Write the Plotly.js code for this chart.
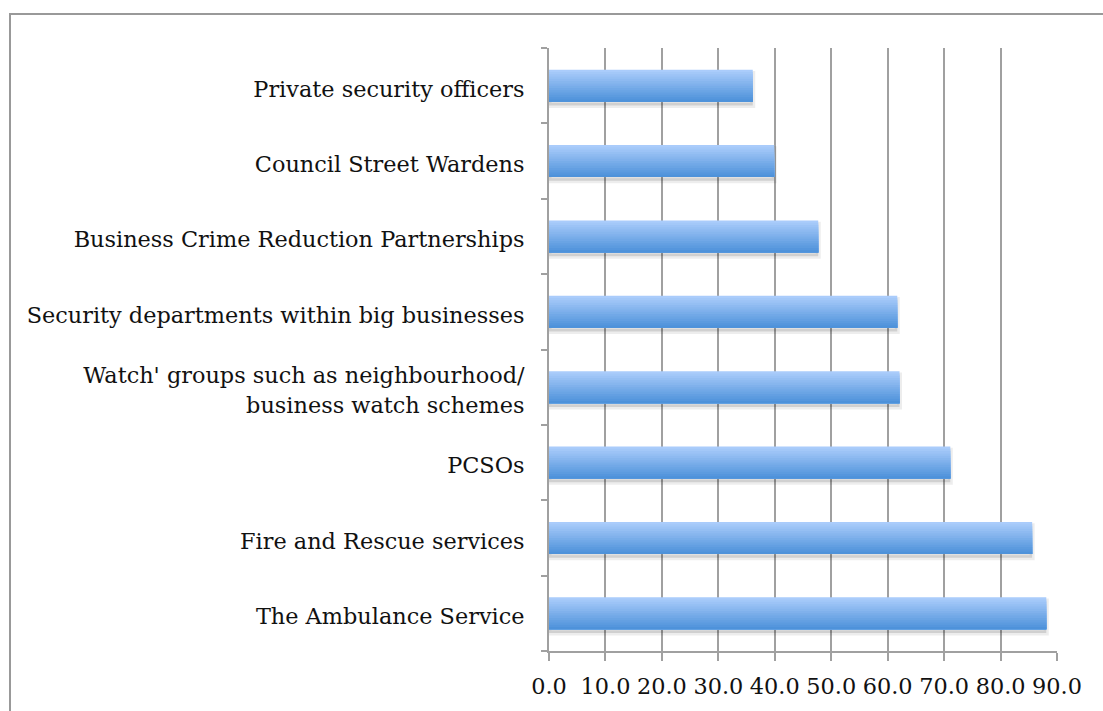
<!DOCTYPE html>
<html>
<head>
<meta charset="utf-8">
<script src="https://cdn.plot.ly/plotly-3.0.1.min.js"></script>
<style>
  html, body { margin: 0; padding: 0; background: #fff; }
  #chart { width: 1103px; height: 711px; }
</style>
</head>
<body>
<div id="chart"></div>
<script>
// Data (bottom to top, as drawn)
const categories = [
  "The Ambulance Service",
  "Fire and Rescue services",
  "PCSOs",
  "Watch' groups such as neighbourhood/<br>business watch schemes",
  "Security departments within big businesses",
  "Business Crime Reduction Partnerships",
  "Council Street Wardens",
  "Private security officers"
];
const values = [88.1, 85.6, 71.1, 62.1, 61.7, 47.7, 39.9, 36.1];

const BAR_W = 0.425;
const N = 14;
const light = [170, 204, 251];
const dark = [78, 146, 218];

const traces = [];
// soft shadow
traces.push({
  type: 'bar', orientation: 'h', y: categories, x: values,
  width: BAR_W, offset: -BAR_W / 2 - 0.05,
  marker: { color: 'rgba(0,0,0,0.12)', line: { color: 'rgba(0,0,0,0.07)', width: 5 } },
  hoverinfo: 'skip', showlegend: false
});
for (let i = 0; i < N; i++) {
  const t = i / (N - 1);
  const c = light.map((l, k) => Math.round(l + (dark[k] - l) * t));
  const w = BAR_W * (1 - i / N);
  traces.push({
    type: 'bar', orientation: 'h', y: categories, x: values,
    width: w, offset: -BAR_W / 2,
    marker: { color: `rgb(${c[0]},${c[1]},${c[2]})`, line: { width: 0 } },
    hoverinfo: i === 0 ? 'x+y' : 'skip', showlegend: false
  });
}

const font = { family: '"DejaVu Serif", "Liberation Serif", serif', size: 22.4, color: '#111' };

const layout = {
  width: 1103, height: 711,
  margin: { l: 549, r: 46, t: 48, b: 60 },
  paper_bgcolor: '#fff', plot_bgcolor: '#fff',
  barmode: 'overlay',
  font: font,
  showlegend: false,
  xaxis: {
    range: [0, 90], dtick: 10, tick0: 0, tickformat: '.1f',
    showgrid: true, gridcolor: '#a0a0a0', gridwidth: 2,
    showline: true, linecolor: '#a0a0a0', linewidth: 2,
    ticks: 'outside', ticklen: 8, tickwidth: 2, tickcolor: '#a0a0a0',
    ticklabelstandoff: 6,
    zeroline: false, tickfont: font, fixedrange: true
  },
  yaxis: {
    type: 'category', showgrid: false, zeroline: false,
    showline: true, linecolor: '#a0a0a0', linewidth: 2,
    ticks: 'outside', tickson: 'boundaries', ticklen: 6, tickwidth: 2, tickcolor: '#a0a0a0',
    ticklabelstandoff: 18, ticklabelshift: 3, tickfont: font, fixedrange: true
  },
  shapes: [{
    type: 'rect', xref: 'paper', yref: 'paper',
    x0: (10 - 549) / 508, x1: 1.3, y0: -0.3, y1: (651 - 14) / 603,
    line: { color: '#999', width: 2 }, fillcolor: 'rgba(0,0,0,0)', layer: 'below'
  }]
};

Plotly.newPlot('chart', traces, layout, { displayModeBar: false, staticPlot: true });
</script>
</body>
</html>
